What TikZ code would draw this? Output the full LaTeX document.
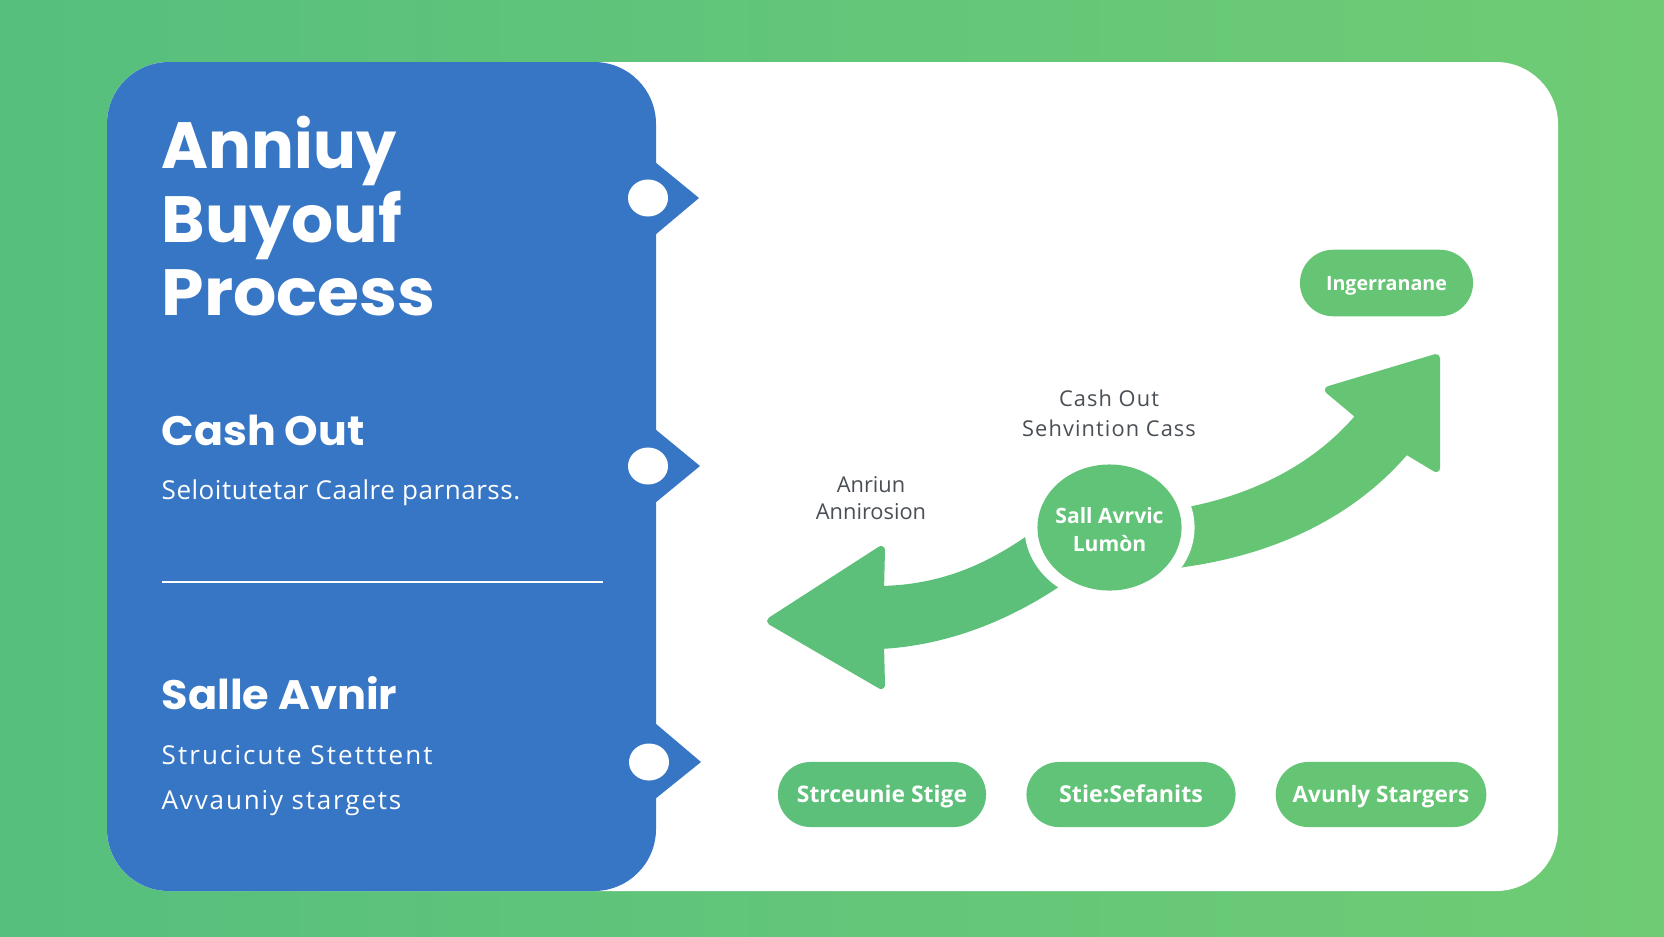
\documentclass[tikz,border=0pt]{standalone}
\usepackage{fontspec}
\setmainfont{Open Sans}
\newfontfamily\headfont{Poppins}
\usetikzlibrary{shapes.geometric,shapes.misc}
\definecolor{bgL}{HTML}{56BF7E}
\definecolor{bgR}{HTML}{6FCC74}
\definecolor{panelblue}{HTML}{3776C5}
\definecolor{arrowL}{HTML}{5CC07A}
\definecolor{arrowR}{HTML}{66C574}
\definecolor{labelgrey}{HTML}{4A4F55}
\newcommand\xs[2]{\scalebox{#1}[1]{#2}}
\newcommand\ls[2]{{\addfontfeature{LetterSpace=#1}#2}}
\tikzset{
  x=0.01cm,y=-0.01cm,
  paneltext/.style={anchor=base west,inner sep=0pt,text=white},
  titletext/.style={paneltext,font=\headfont\bfseries\fontsize{18.6}{20}\selectfont},
  headtext/.style={paneltext,font=\headfont\bfseries\fontsize{11.7}{13}\selectfont},
  subtext/.style={paneltext,font=\fontsize{7.4}{9}\selectfont},
  notchshape/.style={fill=panelblue},
  dropshape/.style={ellipse,fill=white,minimum width=0.40cm,minimum height=0.37cm,inner sep=0pt},
  pillbox/.style={rounded rectangle,inner sep=0pt,text=white,text height=4.3pt,text depth=0pt,font=\bfseries\fontsize{6}{8}\selectfont},
  flowarrow/.style={line join=round,line width=0.08cm},
  floatlabel/.style={text=labelgrey,align=center,inner sep=0pt},
}
\begin{document}
\begin{tikzpicture}
\useasboundingbox (0,0) rectangle (1664,936);
\shade[left color=bgL,right color=bgR] (0,0) rectangle (1664,936);
\fill[white,rounded corners=0.62cm] (107,62) rectangle (1558,891);
\fill[panelblue,rounded corners=0.62cm] (107,62) rectangle (656,891);
\fill[notchshape] (655,162) -- (699,198) -- (655,235) -- cycle;
\fill[notchshape] (655,429) -- (700,466) -- (655,503) -- cycle;
\fill[notchshape] (655,723) -- (701,762) -- (655,799) -- cycle;
\node[dropshape] (d1) at (648,198) {};
\node[dropshape] (d2) at (648,466) {};
\node[dropshape] (d3) at (649,762) {};
\node[titletext] (t1) at (161,168) {\xs{0.973}{Anniuy}};
\node[titletext] (t2) at (161,242) {\xs{1.01}{Buyouf}};
\node[titletext] (t3) at (161,315) {\xs{1.04}{Process}};
\node[headtext] (h1) at (161,445) {\xs{1.038}{Cash Out}};
\node[subtext] (s1) at (161,499) {\ls{2}{Seloitutetar Caalre parnarss.}};
\draw[white,line width=0.015cm] (162,582) -- (603,582);
\node[headtext] (h2) at (161,709) {\xs{1.047}{Salle Avnir}};
\node[subtext] (s2) at (161,764) {\ls{8}{Strucicute Stetttent}};
\node[subtext] (s3) at (161,809) {\ls{7}{Avvauniy stargets}};
% arrows
\filldraw[flowarrow,draw=arrowR,fill=arrowR]
  (1150,520) -- (1193,510) .. controls (1270,494) and (1325,458) .. (1360,416)
  -- (1329,390) -- (1436,358) -- (1436,468) -- (1406,450)
  .. controls (1350,516) and (1270,551) .. (1184,563) -- (1150,570) -- cycle;
\filldraw[flowarrow,draw=arrowL,fill=arrowL]
  (1070,510) -- (1025,542) .. controls (985,569) and (940,589) .. (880,590)
  -- (881,550) -- (771,621) -- (881,685) -- (880,645)
  .. controls (940,642) and (1000,621) .. (1056,584) -- (1090,565) -- cycle;
\node[ellipse,fill=white,minimum width=1.70cm,minimum height=1.50cm,inner sep=0pt] (ring) at (1109.5,527.5) {};
\node[ellipse,fill=arrowL!50!arrowR,minimum width=1.44cm,minimum height=1.26cm,inner sep=0pt] (hub) at (1109.5,527.5) {};
\node[inner sep=0pt,text=white,align=center,font=\bfseries\fontsize{6}{8}\selectfont] (hubtext) at (hub.center) [yshift=-0.02cm] {Sall Avrvic\\Lumòn};
\node[floatlabel,font=\fontsize{6.2}{8.6}\selectfont] (l1) at (1109,413) {\ls{5}{Cash Out}\\\ls{5}{Sehvintion Cass}};
\node[floatlabel,font=\fontsize{6.2}{7.5}\selectfont] (l2) at (871,498) {Anriun\\Annirosion};
\node[pillbox,fill=arrowR,minimum width=1.73cm,minimum height=0.665cm,font=\bfseries\fontsize{5.6}{8}\selectfont] (p0) at (1386.5,283) {Ingerranane};
\node[pillbox,fill=arrowL,minimum width=2.08cm,minimum height=0.65cm,font=\bfseries\fontsize{6.5}{8}\selectfont] (p1) at (882,794.5) {Strceunie Stige};
\node[pillbox,fill=arrowL!50!arrowR,minimum width=2.09cm,minimum height=0.65cm,font=\bfseries\fontsize{6.6}{8}\selectfont] (p2) at (1131,794.5) {Stie:Sefanits};
\node[pillbox,fill=arrowR,minimum width=2.105cm,minimum height=0.65cm,font=\bfseries\fontsize{6.4}{8}\selectfont] (p3) at (1381,794.5) {Avunly Stargers};
\end{tikzpicture}
\end{document}
